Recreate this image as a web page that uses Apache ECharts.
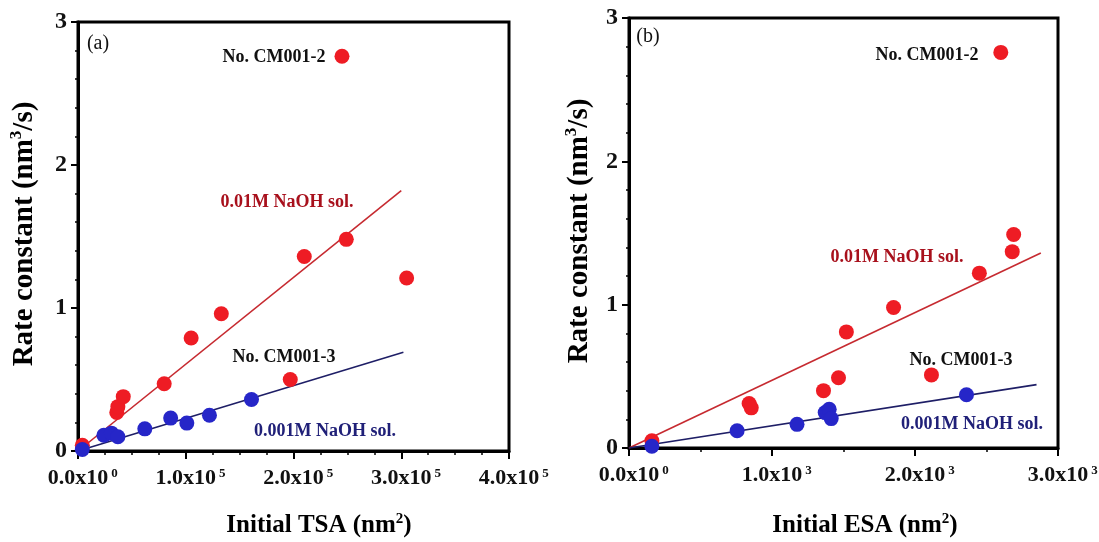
<!DOCTYPE html>
<html>
<head>
<meta charset="utf-8">
<script src="https://cdn.jsdelivr.net/npm/echarts@6/dist/echarts.min.js"></script>
<style>
  html, body { margin: 0; padding: 0; background: #fff; }
  #chart { width: 1099px; height: 542px; }
</style>
</head>
<body>
<div id="chart"></div>
<script>
// ---- Panel (a): rate constant vs initial TSA ----
const tsaTickMantissa = ['0.0x10', '1.0x10', '2.0x10', '3.0x10', '4.0x10'];
const tsaTickExponent = ['0', '5', '5', '5', '5'];
const tsaRedX = [4000, 36000, 37000, 42000, 80000, 105000, 133000, 197000, 210000, 249000, 305000, 245000];
const tsaRedY = [0.04, 0.27, 0.31, 0.38, 0.47, 0.79, 0.96, 0.50, 1.36, 1.48, 1.21, 2.76];
const tsaBlueX = [4000, 24000, 31000, 37000, 62000, 86000, 101000, 122000, 161000];
const tsaBlueY = [0.01, 0.11, 0.125, 0.10, 0.155, 0.23, 0.195, 0.25, 0.36];
const tsaRedFitX = [0, 300000];
const tsaRedFitY = [0, 1.82];
const tsaBlueFitX = [0, 302000];
const tsaBlueFitY = [0, 0.69];

// ---- Panel (b): rate constant vs initial ESA ----
const esaTickMantissa = ['0.0x10', '1.0x10', '2.0x10', '3.0x10'];
const esaTickExponent = ['0', '3', '3', '3'];
const esaRedX = [160, 840, 855, 1360, 1465, 1520, 1850, 2115, 2450, 2680, 2690, 2600];
const esaRedY = [0.05, 0.31, 0.28, 0.40, 0.49, 0.81, 0.98, 0.51, 1.22, 1.37, 1.49, 2.76];
const esaBlueX = [160, 756, 1175, 1372, 1400, 1414, 2360];
const esaBlueY = [0.012, 0.12, 0.165, 0.247, 0.27, 0.205, 0.372];
const esaRedFitX = [0, 2880];
const esaRedFitY = [0, 1.36];
const esaBlueFitX = [0, 2850];
const esaBlueFitY = [0, 0.442];

// ---- shared ----
const rateTickLabels = ['0', '1', '2', '3'];
const panelTags = ['(a)', '(b)'];
const sampleTags = ['No. CM001-2', 'No. CM001-3'];
const solutionTags = ['0.01M NaOH sol.', '0.001M NaOH sol.'];

const SERIF = '"Liberation Serif", "Times New Roman", serif';
const RED_DOT = '#ee1c24';
const BLUE_DOT = '#2626c8';
const RED_LINE = '#c62a30';
const BLUE_LINE = '#1e1e66';
const RED_TEXT = '#a8101c';
const BLUE_TEXT = '#202078';

const pairs = (xs, ys) => xs.map((x, i) => [x, ys[i]]);

// tick label: mantissa centred on the tick, exponent raised to its right
// (a transparent copy of the exponent on the left keeps the mantissa centred)
const tickRich = {
  h: { fontFamily: SERIF, fontWeight: 'bold', fontSize: 13, lineHeight: 13, color: 'rgba(0,0,0,0)', verticalAlign: 'top', padding: [0, 3, 15, 0] },
  m: { fontFamily: SERIF, fontWeight: 'bold', fontSize: 22, lineHeight: 22, color: '#111', verticalAlign: 'bottom' },
  e: { fontFamily: SERIF, fontWeight: 'bold', fontSize: 13, lineHeight: 13, color: '#111', verticalAlign: 'top', padding: [0, 0, 15, 3] }
};

function xAxisFor(gridIndex, max, step, mant, expo, minorSplit) {
  return {
    gridIndex, type: 'value', min: 0, max, interval: step,
    axisLine: { show: true, onZero: false, lineStyle: { color: '#000', width: 3 } },
    axisTick: { show: true, inside: false, length: 8, lineStyle: { color: '#000', width: 2 } },
    minorTick: { show: true, splitNumber: minorSplit, length: 4, lineStyle: { color: '#000', width: 1.5 } },
    splitLine: { show: false }, minorSplitLine: { show: false },
    axisLabel: {
      margin: 16, showMinLabel: true, showMaxLabel: true,
      formatter: (v) => {
        const i = Math.round(v / step);
        return '{h|' + expo[i] + '}{m|' + mant[i] + '}{e|' + expo[i] + '}';
      },
      rich: tickRich
    }
  };
}

function yAxisFor(gridIndex) {
  return {
    gridIndex, type: 'value', min: 0, max: 3, interval: 1,
    axisLine: { show: true, onZero: false, lineStyle: { color: '#000', width: 3 } },
    axisTick: { show: true, inside: false, length: 7, lineStyle: { color: '#000', width: 2 } },
    minorTick: { show: true, splitNumber: 5, length: 3, lineStyle: { color: '#000', width: 1.5 } },
    splitLine: { show: false }, minorSplitLine: { show: false },
    axisLabel: {
      margin: 11, showMinLabel: true, showMaxLabel: true,
      formatter: (v) => rateTickLabels[Math.round(v)],
      fontFamily: SERIF, fontWeight: 'bold', fontSize: 24, color: '#111'
    }
  };
}

function scatter(axis, data, color) {
  return {
    type: 'scatter', xAxisIndex: axis, yAxisIndex: axis, data,
    symbol: 'circle', symbolSize: 15, itemStyle: { color, opacity: 1 }, z: 4, silent: true
  };
}

function fit(axis, data, color) {
  return {
    type: 'line', xAxisIndex: axis, yAxisIndex: axis, data,
    symbol: 'none', lineStyle: { color, width: 1.6 }, z: 3, silent: true
  };
}

function label(x, y, text, color, size, weight) {
  return {
    type: 'text', x, y, z: 10, silent: true,
    style: {
      text, fill: color, fontFamily: SERIF, fontSize: size, fontWeight: weight || 'bold',
      align: 'center', verticalAlign: 'middle'
    }
  };
}

function richTitle(x, y, text, size, rotation) {
  return {
    type: 'text', x, y, rotation: rotation || 0, z: 10, silent: true,
    style: {
      text, align: 'center', verticalAlign: 'middle',
      rich: {
        t: { fontFamily: SERIF, fontWeight: 'bold', fontSize: size, lineHeight: size + 2, color: '#111', verticalAlign: 'bottom' },
        s: { fontFamily: SERIF, fontWeight: 'bold', fontSize: Math.round(size * 0.6), lineHeight: Math.round(size * 0.6), color: '#111', verticalAlign: 'top', padding: [0, 0, 8, 0] }
      }
    }
  };
}

const chart = echarts.init(document.getElementById('chart'), null, { renderer: 'canvas' });

chart.setOption({
  animation: false,
  backgroundColor: '#fff',
  grid: [
    { left: 78, top: 22, width: 431, height: 429, show: true, borderColor: '#000', borderWidth: 3, backgroundColor: 'transparent', containLabel: false, outerBoundsMode: 'none' },
    { left: 629, top: 18, width: 429, height: 430, show: true, borderColor: '#000', borderWidth: 3, backgroundColor: 'transparent', containLabel: false, outerBoundsMode: 'none' }
  ],
  xAxis: [
    xAxisFor(0, 400000, 100000, tsaTickMantissa, tsaTickExponent, 4),
    xAxisFor(1, 3000, 1000, esaTickMantissa, esaTickExponent, 2)
  ],
  yAxis: [yAxisFor(0), yAxisFor(1)],
  series: [
    fit(0, pairs(tsaRedFitX, tsaRedFitY), RED_LINE),
    fit(0, pairs(tsaBlueFitX, tsaBlueFitY), BLUE_LINE),
    scatter(0, pairs(tsaRedX, tsaRedY), RED_DOT),
    scatter(0, pairs(tsaBlueX, tsaBlueY), BLUE_DOT),
    fit(1, pairs(esaRedFitX, esaRedFitY), RED_LINE),
    fit(1, pairs(esaBlueFitX, esaBlueFitY), BLUE_LINE),
    scatter(1, pairs(esaRedX, esaRedY), RED_DOT),
    scatter(1, pairs(esaBlueX, esaBlueY), BLUE_DOT)
  ],
  graphic: [
    // axis titles
    richTitle(24, 234, '{t|Rate constant (nm}{s|3}{t|/s)}', 29, Math.PI / 2),
    richTitle(579, 231, '{t|Rate constant (nm}{s|3}{t|/s)}', 29, Math.PI / 2),
    richTitle(319, 525, '{t|Initial TSA (nm}{s|2}{t|)}', 25, 0),
    richTitle(865, 525, '{t|Initial ESA (nm}{s|2}{t|)}', 25, 0),
    // panel (a) annotations
    label(98, 44, panelTags[0], '#111', 20, 'normal'),
    label(274, 57, sampleTags[0], '#111', 18),
    label(287, 202, solutionTags[0], RED_TEXT, 18),
    label(284, 357, sampleTags[1], '#111', 18),
    label(325, 431, solutionTags[1], BLUE_TEXT, 18),
    // panel (b) annotations
    label(648, 37, panelTags[1], '#111', 20, 'normal'),
    label(927, 55, sampleTags[0], '#111', 18),
    label(897, 257, solutionTags[0], RED_TEXT, 18),
    label(961, 360, sampleTags[1], '#111', 18),
    label(972, 424, solutionTags[1], BLUE_TEXT, 18)
  ]
});
</script>
</body>
</html>
